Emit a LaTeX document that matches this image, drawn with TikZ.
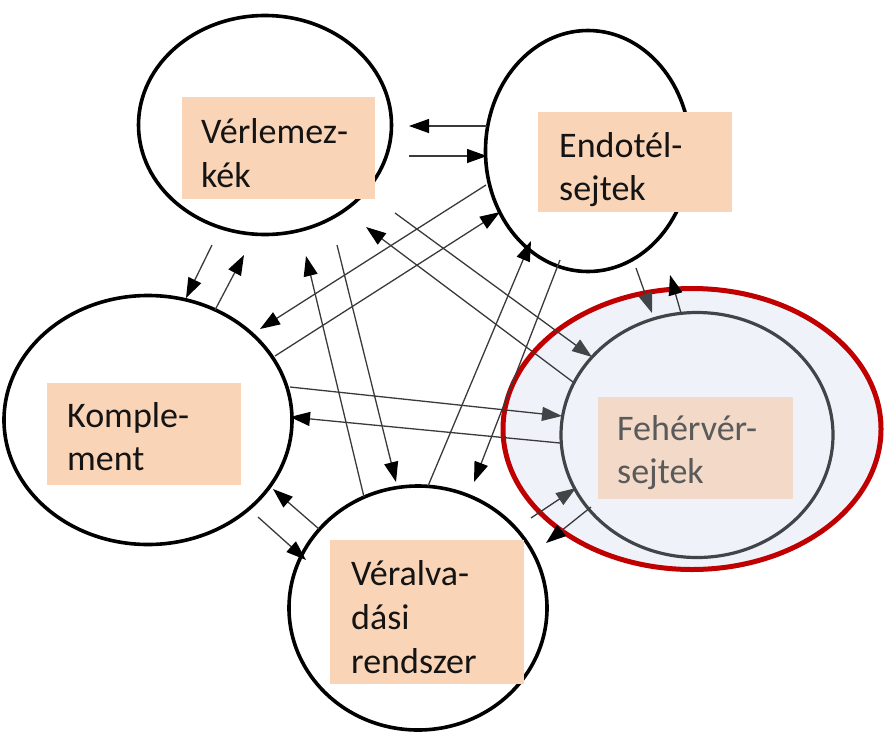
\documentclass[tikz,border=0pt]{standalone}
\usepackage{fontspec}
\setmainfont{Carlito}
\usetikzlibrary{shapes.geometric,arrows.meta}
\definecolor{peach}{HTML}{FAD4B6}
\definecolor{peachF}{HTML}{F2D9C8}
\definecolor{paleblue}{HTML}{EFF3F9}
\definecolor{darkred}{HTML}{C00000}
\definecolor{linegray}{HTML}{3A3A3A}
\definecolor{fgray}{HTML}{404548}
\definecolor{txtgray}{HTML}{5A5A5A}
\tikzset{
  cell/.style={ellipse, draw=black, line width=3.6pt, fill=white, inner sep=0pt},
  labelbox/.style={rectangle, fill=peach, inner sep=0pt},
  lbl/.style={anchor=base west, inner sep=0pt, text=black!92, font=\fontsize{36}{44}\selectfont, align=left},
  arr/.style={draw=linegray, line width=1.3pt, -{Triangle[length=20pt,width=14pt,color=black]}},
  arrF/.style={draw=linegray, line width=1.3pt, -{Triangle[length=20pt,width=14pt,color=fgray]}},
}
\begin{document}
\begin{tikzpicture}[x=1pt,y=-1pt]
\useasboundingbox (0,0) rectangle (885,737);
% highlighted white blood cell
\node[ellipse, draw=darkred, line width=5pt, fill=paleblue, minimum width=378pt, minimum height=281pt, inner sep=0pt] (Fring) at (692,429) {};
\node[ellipse, draw=fgray, line width=3.2pt, minimum width=272pt, minimum height=245pt, inner sep=0pt] (F) at (697,435) {};
% cells
\node[cell, minimum width=253pt, minimum height=219pt] (V) at (265,125) {};
\node[cell, minimum width=205pt, minimum height=241pt] (E) at (588,151) {};
\node[cell, minimum width=288pt, minimum height=249pt] (K) at (148,420) {};
\node[cell, minimum width=258pt, minimum height=244pt] (A) at (418,608) {};
% label boxes
\node[labelbox, minimum width=193pt, minimum height=102pt] (Vb) at (278.5,148) {};
\node[labelbox, minimum width=194pt, minimum height=100pt] (Eb) at (635,162) {};
\node[labelbox, minimum width=194pt, minimum height=102pt] (Kb) at (144,434) {};
\node[labelbox, minimum width=194pt, minimum height=144pt] (Ab) at (427,612) {};
\node[labelbox, fill=peachF, minimum width=195pt, minimum height=102pt] (Fb) at (695.5,448) {};
% texts
\node[lbl] (Vt1) at (201,143) {Vérlemez-};
\node[lbl] (Vt2) at (201,187) {kék};
\node[lbl] (Et1) at (559,157) {Endotél-};
\node[lbl] (Et2) at (559,200) {sejtek};
\node[lbl] (Kt1) at (67,427) {Komple-};
\node[lbl] (Kt2) at (67,470) {ment};
\node[lbl] (At1) at (351,585) {Véralva-};
\node[lbl] (At2) at (351,629) {dási};
\node[lbl] (At3) at (351,673) {rendszer};
\node[lbl, text=txtgray] (Ft1) at (617,440) {Fehérvér-};
\node[lbl, text=txtgray] (Ft2) at (617,483) {sejtek};
% connector end points on the cell borders
\coordinate (ev1) at (487,126);  \coordinate (ve1) at (409,126);
\coordinate (ve2) at (409,156);  \coordinate (ev2) at (487,156);
\coordinate (vk1) at (212,245);  \coordinate (kv1) at (186,298);
\coordinate (kv2) at (215,310);  \coordinate (vk2) at (244,255);
\coordinate (ek1) at (486,185);  \coordinate (ke1) at (260,329);
\coordinate (ke2) at (275,356);  \coordinate (ek2) at (500,212);
\coordinate (vf1) at (395,213);  \coordinate (fv1) at (592,357);
\coordinate (fv2) at (573,382);  \coordinate (vf2) at (366,227);
\coordinate (av1) at (364,497);  \coordinate (va1) at (306,256);
\coordinate (va2) at (337,245);  \coordinate (av2) at (396,482);
\coordinate (ae1) at (428,486);  \coordinate (ea1) at (531,241);
\coordinate (ea2) at (560,260);  \coordinate (ae2) at (474,482);
\coordinate (ef1) at (636,268);  \coordinate (fe1) at (652,313);
\coordinate (fe2) at (681,313);  \coordinate (ef2) at (670,275);
\coordinate (kf1) at (290,387);  \coordinate (fk1) at (562,416);
\coordinate (fk2) at (560,443);  \coordinate (kf2) at (290,417);
\coordinate (ak1) at (319,529);  \coordinate (ka1) at (273,489);
\coordinate (ka2) at (258,517);  \coordinate (ak2) at (306,560);
\coordinate (af1) at (531,518);  \coordinate (fa1) at (576,488);
\coordinate (fa2) at (591,507);  \coordinate (af2) at (546,543);
% connectors
\draw[arr] (ev1) -- (ve1);
\draw[arr] (ve2) -- (ev2);
\draw[arr] (vk1) -- (kv1);
\draw[arr] (kv2) -- (vk2);
\draw[arr] (ek1) -- (ke1);
\draw[arr] (ke2) -- (ek2);
\draw[arrF] (vf1) -- (fv1);
\draw[arr] (fv2) -- (vf2);
\draw[arr] (av1) -- (va1);
\draw[arr] (va2) -- (av2);
\draw[arr] (ae1) -- (ea1);
\draw[arr] (ea2) -- (ae2);
\draw[arrF] (ef1) -- (fe1);
\draw[arr] (fe2) -- (ef2);
\draw[arrF] (kf1) -- (fk1);
\draw[arr] (fk2) -- (kf2);
\draw[arr] (ak1) -- (ka1);
\draw[arr] (ka2) -- (ak2);
\draw[arrF] (af1) -- (fa1);
\draw[arr] (fa2) -- (af2);
\end{tikzpicture}
\end{document}
